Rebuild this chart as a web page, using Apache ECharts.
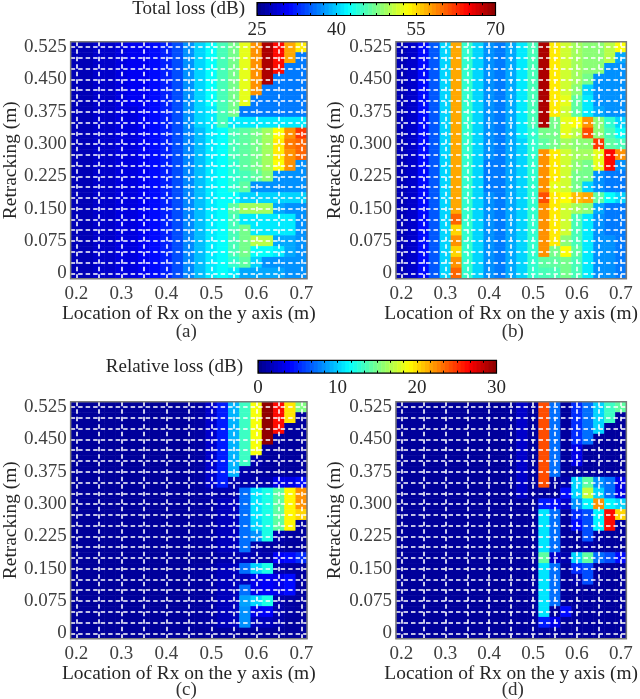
<!DOCTYPE html>
<html><head><meta charset="utf-8">
<style>html,body{margin:0;padding:0;background:#fff}#c{width:640px;height:699px}</style>
<script src="https://cdn.jsdelivr.net/npm/echarts@6/dist/echarts.min.js"></script>
</head><body><div id="c"></div>
<script>
const xCategories = ['0.2','0.225','0.25','0.275','0.3','0.325','0.35','0.375','0.4','0.425','0.45','0.475','0.5','0.525','0.55','0.575','0.6','0.625','0.65','0.675','0.7'];
const yCategories = ['0','0.025','0.05','0.075','0.1','0.125','0.150','0.175','0.2','0.225','0.25','0.275','0.300','0.325','0.35','0.375','0.4','0.425','0.450','0.475','0.5','0.525'];
// Rows run from the top of the plot (0.525) to the bottom (0)
const totalLossA = [
[27,27,28,28,29,30,30,31,32,34,37,40,42,45,47,52,58,68,64,57,54],
[27,27,28,28,29,30,30,31,32,34,37,40,42,45,47,52,58,68,64,57,36],
[27,27,28,28,29,30,30,31,32,34,37,40,42,45,47,52,58,68,64,36,36],
[27,27,28,28,29,30,30,31,32,34,37,40,42,45,47,52,58,68,36,36,36],
[27,27,28,28,29,30,30,31,32,34,37,40,42,45,47,52,58,36,36,36,36],
[27,27,28,28,29,30,30,31,32,34,37,40,42,45,47,52,36,36,36,36,36],
[27,27,28,28,29,29,30,31,32,34,37,40,41,45,47,36,36,36,36,36,36],
[27,27,28,28,29,29,30,31,32,34,37,40,41,45,41,41,41,41,41,41,41],
[27,27,28,28,29,29,30,31,32,34,36.5,39,41,42,45,46,47,49,53,58,62],
[27,27,28,28,29,29,30,31,32,34,36.5,39,41,42,45,46,47,49,54,59,60],
[27,27,28,28,29,29,30,31,32,34,36.5,39,41,42,45,46,47,49,54,58,60],
[27,27,28,28,29,29,30,31,32,34,36.5,39,41,42,44,46,47,49,53,58,37],
[27,27,28,28,29,29,30,31,32,34,36.5,39,41,42,44,45,46,48,37,37,37],
[27,27,28,28,29,29,30,31,32,34,36.5,39,41,42,44,46,37,37,37,37,37],
[27,27,28,28,29,29,30,31,32,34,36.5,39,41,42,42,40,40,40,40,40,40],
[27,27,28,28,29,29,30,31,32,34,36.5,39,41,42,46,49,49,49,38,37,37],
[27,27,28,28,29,29,30,31,32,34,36.5,39,41,42,45,41,41,41,41,41,37],
[27,27,28,28,29,29,30,31,32,34,36.5,39,41,42,45,47,41,41,41,41,37],
[27,27,28,28,29,29,30,31,32,34,36.5,39,41,42,45,47,50,50,38,38,37],
[27,27,28,28,29,29,30,31,32,34,36.5,39,41,42,45,47,42,42,41,38,37],
[27,27,28,28,29,29,30,31,32,34,36.5,39,41,42,44,46,40,37,37,37,37],
[27,27,28,28,29,29,30,31,32,34,36.5,39,41,42,41,38,38,38,38,37,37]];
const totalLossB = [
[27,28,31,34.5,40,57,44,40,37,36,38,41,45,68,54,51,49,48,48,50,53],
[27,28,31,34.5,40,57,44,40,37,36,38,41,45,68,54,51,49,48,48,50,38],
[27,28,31,34.5,40,57,44,40,37,36,38,41,45,68,54,51,49,48,48,37,37],
[27,28,31,34.5,40,57,44,40,37,36,38,41,45,68,54,51,49,47,37,37,37],
[27,28,31,34.5,40,57,44,40,37,36,38,41,45,68,54,51,48,40,37,37,37],
[27,28,31,34.5,40,57,44,40,37,36,38,41,45,68,54,52,46,41,37,37,37],
[27,28,31,34.5,40,57,44,40,37,36,38,41,45,68,54,51,46,41,38,37,37],
[27,28,31,34.5,40,57,44,40,37,36,38,41,45,68,47,52,53,58,48,44,40],
[27,28,31,34.5,40,57,44,40,37,36,38,41,44,47,47,52,50,61,48,45,42],
[27,28,31,34.5,40,57,44,40,37,36,38,40,44,46,47,49,48,48,62,46,45],
[27,28,31,34.5,40,57,44,40,37,36,38,40,44,58,54,51,49,49,52,64,58],
[27,28,31,34.5,40,57,44,40,36,36,38,40,44,58,54,51,48,47,52,64,37],
[27,28,31,34.5,40,57,44,40,36,36,38,40,44,58,54,51,47,47,37,36,36],
[27,28,31,34.5,40,57,44,40,36,36,38,40,44,58,52,51,47,40,37,36,36],
[27,28,31,34.5,40,57,44,40,37,36,38,40,44,61,54,53,56,57,46,42,40],
[27,28,31,34.5,40,57,44,40,37,36,38,40,44,58,54,51,49,48,38,36,36],
[27,28,31,34.5,40,60,44,40,37,36,38,40,44,58,54,51,45,41,37,36,36],
[27,28,31,34.5,40,55,44,40,37,36,38,40,44,58,54,51,45,41,37,36,36],
[27,28,31,34.5,40,58,44,40,37,36,38,40,44,58,54,48,45,41,37,37,36],
[27,28,31,34.5,40,55,44,40,37,36,38,40,44,58,47,53,46,41,37,37,36],
[27,28,31,34.5,40,58,44,40,37,36,38,40,44,46,46,47,45,41,37,37,36],
[27,28,31,34.5,40,60,44,40,37,36,38,40,44,45,45,47,45,41,37,37,36]];
const relativeLossC = [
[.4,.4,.4,.4,.4,.4,.4,.4,.4,.4,.5,.7,2,4.5,9,13,18.5,29.5,26,19.5,15],
[.4,.4,.4,.4,.4,.4,.4,.4,.4,.4,.5,.7,2,4.5,9,13,18.5,29.5,26,19.5,.5],
[.4,.4,.4,.4,.4,.4,.4,.4,.4,.4,.5,.7,2,4.5,9,13,18.5,29.5,26,.5,.5],
[.4,.4,.4,.4,.4,.4,.4,.4,.4,.4,.5,.7,2,4.5,9,13,18.5,29.5,.5,.5,.5],
[.4,.4,.4,.4,.4,.4,.4,.4,.4,.4,.5,.7,2,4.5,9,13,18.5,.5,.5,.5,.5],
[.4,.4,.4,.4,.4,.4,.4,.4,.4,.4,.5,.7,2,4.5,9,13,1,.5,.5,.5,.5],
[.4,.4,.4,.4,.4,.4,.4,.4,.4,.4,.5,.7,2,4.5,9,1,.5,.5,.5,.5,.5],
[.4,.4,.4,.4,.4,.4,.4,.4,.4,.4,.5,.7,2,4.5,1,1,1,1,3,3,4],
[.4,.4,.4,.4,.4,.4,.4,.4,.4,.4,.5,.6,1,1,1,7,10.5,12,14,19,22],
[.4,.4,.4,.4,.4,.4,.4,.4,.4,.4,.5,.6,.7,1.5,1.5,7,10.5,12,14,19,22],
[.4,.4,.4,.4,.4,.4,.4,.4,.4,.4,.5,.6,.7,1.5,1.5,7,10.5,12,14,19,20],
[.4,.4,.4,.4,.4,.4,.4,.4,.4,.4,.5,.6,.7,1.5,1.5,7,10,12,14,19,.5],
[.4,.4,.4,.4,.4,.4,.4,.4,.4,.4,.5,.6,.7,1.5,1.5,7,8,12,1,.7,.5],
[.4,.4,.4,.4,.4,.4,.4,.4,.4,.4,.5,.6,.7,1.5,1.5,7,1,.7,.7,.5,.5],
[.4,.4,.4,.4,.4,.4,.4,.4,.4,.4,.4,.4,.5,1,1,1.5,1,1,3.5,4,5],
[.4,.4,.4,.4,.4,.4,.4,.4,.4,.4,.5,.6,.7,1.5,1.5,7,10,12,1,.7,.5],
[.4,.4,.4,.4,.4,.4,.4,.4,.4,.4,.5,.6,.7,1.5,1.5,1.5,3,3.5,3,4,.5],
[.4,.4,.4,.4,.4,.4,.4,.4,.4,.4,.5,.6,.7,1.5,1.5,7,3,3.5,3,4,.5],
[.4,.4,.4,.4,.4,.4,.4,.4,.4,.4,.5,.6,.7,1.5,1.5,8.5,10,12,1,.7,.5],
[.4,.4,.4,.4,.4,.4,.4,.4,.4,.4,.5,.6,.7,1.5,1.5,8,3,3.5,1,.7,.5],
[.4,.4,.4,.4,.4,.4,.4,.4,.4,.4,.5,.6,.7,1.5,1.5,8,1.5,1.5,1,.5,.5],
[.4,.4,.4,.4,.4,.4,.4,.4,.4,.4,.4,.4,.5,.5,.5,.5,.5,.5,.5,.5,.5]];
const relativeLossD = [
[.4,.4,.4,.4,.4,.4,.4,.4,.4,.4,.5,2,.5,24,7,.5,5,7,10,13,14],
[.4,.4,.4,.4,.4,.4,.4,.4,.4,.4,.5,2,.5,24,7,.5,5,7,10,13,.5],
[.4,.4,.4,.4,.4,.4,.4,.4,.4,.4,.5,2,.5,24,7,.5,5,7,10,.5,.5],
[.4,.4,.4,.4,.4,.4,.4,.4,.4,.4,.5,2,.5,24,7,.5,5,7,.5,.5,.5],
[.4,.4,.4,.4,.4,.4,.4,.4,.4,.4,.5,2,.5,24,7,.5,3,.5,.5,.5,.5],
[.4,.4,.4,.4,.4,.4,.4,.4,.4,.4,.5,2,.5,24,7,.5,3,.5,.5,.5,.5],
[.4,.4,.4,.4,.4,.4,.4,.4,.4,.4,.5,2,.5,24,7,.5,.5,.5,.5,.5,.5],
[.4,.4,.4,.4,.4,.4,.4,.4,.4,.4,.5,2,.5,24,.5,1,10,14,8,7,3],
[.4,.4,.4,.4,.4,.4,.4,.4,.4,.4,.5,2,.5,.5,.5,4,10,17,10,7,3],
[.4,.4,.4,.4,.4,.4,.4,.4,.4,.4,.4,.5,.5,4.5,4,2,8,11,22,11,10],
[.4,.4,.4,.4,.4,.4,.4,.4,.4,.4,.4,.5,.5,10.5,7,.5,5,6,11,26,20],
[.4,.4,.4,.4,.4,.4,.4,.4,.4,.4,.4,.5,.5,10.5,7,.5,4,6,11,26,.5],
[.4,.4,.4,.4,.4,.4,.4,.4,.4,.4,.4,.5,.5,10.5,7,.5,.5,6,.7,.5,.5],
[.4,.4,.4,.4,.4,.4,.4,.4,.4,.4,.4,.5,.5,10.5,7,.5,.5,1,.5,.5,.5],
[.4,.4,.4,.4,.4,.4,.4,.4,.4,.4,.4,.5,.5,14,2,1,10,14,7,6,4],
[.4,.4,.4,.4,.4,.4,.4,.4,.4,.4,.4,.5,.5,10.5,7,.5,5,6,.5,.5,.5],
[.4,.4,.4,.4,.4,.4,.4,.4,.4,.4,.4,.5,.5,10.5,7,.5,1,6,.5,.5,.5],
[.4,.4,.4,.4,.4,.4,.4,.4,.4,.4,.4,.5,.5,10.5,7,.5,.5,.5,.5,.5,.5],
[.4,.4,.4,.4,.4,.4,.4,.4,.4,.4,.4,.5,.5,10.5,7,.5,.5,.5,.5,.5,.5],
[.4,.4,.4,.4,.4,.4,.4,.4,.4,.4,.4,.5,.5,10.5,.5,4,.5,.5,.5,.5,.5],
[.4,.4,.4,.4,.4,.4,.4,.4,.4,.4,.4,.5,.5,4.5,3,.5,.5,.5,.5,.5,.5],
[.4,.4,.4,.4,.4,.4,.4,.4,.4,.4,.4,.5,.5,.5,.5,.5,.5,.5,.5,.5,.5]];
const barLevelsTotal = [25,25.75,26.5,27.25,28,28.75,29.5,30.25,31,31.75,32.5,33.25,34,34.75,35.5,36.25,37,37.75,38.5,39.25,40,40.75,41.5,42.25,43,43.75,44.5,45.25,46,46.75,47.5,48.25,49,49.75,50.5,51.25,52,52.75,53.5,54.25,55,55.75,56.5,57.25,58,58.75,59.5,60.25,61,61.75,62.5,63.25,64,64.75,65.5,66.25,67,67.75,68.5,69.25,70];
const barLevelsRelative = [0,.5,1,1.5,2,2.5,3,3.5,4,4.5,5,5.5,6,6.5,7,7.5,8,8.5,9,9.5,10,10.5,11,11.5,12,12.5,13,13.5,14,14.5,15,15.5,16,16.5,17,17.5,18,18.5,19,19.5,20,20.5,21,21.5,22,22.5,23,23.5,24,24.5,25,25.5,26,26.5,27,27.5,28,28.5,29,29.5,30];
const barLabelsTotal = [25,40,55,70];
const barLabelsRelative = [0,10,20,30];
const barTicksTotal = [25,27.5,30,32.5,35,37.5,40,42.5,45,47.5,50,52.5,55,57.5,60,62.5,65,67.5,70];
const barTicksRelative = [0,1.667,3.333,5,6.667,8.333,10,11.667,13.333,15,16.667,18.333,20,21.667,23.333,25,26.667,28.333,30];
const jet = ['#00008f','#0000ff','#0080ff','#00ffff','#80ff80','#ffff00','#ff8000','#ff0000','#800000'];

const FONT = 'Liberation Serif';
const panels = [
  {rows: totalLossA,   left: 69.5, top: 41.7,  label: '(a)', ly: 332, yGap: 49},
  {rows: totalLossB,   left: 396,  top: 41.7,  label: '(b)', ly: 332, yGap: 51.5},
  {rows: relativeLossC,left: 69.5, top: 401.7, label: '(c)', ly: 690.5, yGap: 49},
  {rows: relativeLossD,left: 396,  top: 401.7, label: '(d)', ly: 690.5, yGap: 51.5}
];
const W = 237.5, H = 237;
const grids = [], xAxes = [], yAxes = [], series = [], graphics = [];
const dash = {color: '#fff', width: 1.6, type: [4.5, 3]};
panels.forEach((p, i) => {
  grids.push({left: p.left, top: p.top, width: W, height: H, show: true, z: 6,
    backgroundColor: 'transparent', borderColor: '#7a7a7a', borderWidth: 1.5});
  xAxes.push({type: 'category', gridIndex: i, data: xCategories, z: 5,
    axisLine: {show: false}, axisTick: {show: false},
    axisLabel: {interval: 3, fontFamily: FONT, fontSize: 19, color: '#404040', margin: 6},
    name: 'Location of Rx on the y axis (m)', nameLocation: 'middle', nameGap: 20.5,
    nameTextStyle: {fontFamily: FONT, fontSize: 19.4, color: '#262626'},
    splitLine: {show: true, interval: 1, alignWithLabel: true, lineStyle: dash}});
  yAxes.push({type: 'category', gridIndex: i, data: yCategories, z: 5,
    axisLine: {show: false}, axisTick: {show: false},
    axisLabel: {interval: 2, fontFamily: FONT, fontSize: 19, color: '#404040', margin: 4, padding: [2, 0, 0, 0]},
    name: 'Retracking (m)', nameLocation: 'middle', nameGap: p.yGap, nameRotate: 90,
    nameTextStyle: {fontFamily: FONT, fontSize: 19.4, color: '#262626'},
    splitLine: {show: true, interval: 0, alignWithLabel: true, lineStyle: dash}});
  const cells = [];
  p.rows.forEach((row, r) => row.forEach((v, c) => cells.push([c, p.rows.length - 1 - r, v])));
  series.push({type: 'heatmap', xAxisIndex: i, yAxisIndex: i, data: cells, silent: true,
    progressive: 0, itemStyle: {borderWidth: 0}, emphasis: {disabled: true}});
  graphics.push({type: 'text', x: p.left + W / 2 - 2, y: p.ly, silent: true,
    style: {text: p.label, fontFamily: FONT, fontSize: 19, fill: '#333', align: 'center', verticalAlign: 'middle'}});
});

const bars = [
  {levels: barLevelsTotal, labels: barLabelsTotal, ticks: barTicksTotal, min: 25, max: 70, left: 257, top: 2.7, title: 'Total loss (dB)', tx: 245, ty: 9},
  {levels: barLevelsRelative, labels: barLabelsRelative, ticks: barTicksRelative, min: 0, max: 30, left: 258, top: 360.3, title: 'Relative loss (dB)', tx: 243, ty: 367}
];
bars.forEach((b, j) => {
  const g = 4 + j;
  grids.push({left: b.left, top: b.top, width: 238.5, height: 12.8, show: true, z: 6,
    backgroundColor: 'transparent', borderColor: '#000', borderWidth: 1.2});
  xAxes.push({type: 'value', gridIndex: g, min: b.min, max: b.max, z: 5, position: 'bottom',
    axisLine: {show: false}, splitLine: {show: false},
    axisTick: {show: true, inside: true, length: 2.5, customValues: b.ticks, lineStyle: {color: '#000', width: 1}},
    axisLabel: {customValues: b.labels, fontFamily: FONT, fontSize: 19, color: '#262626', margin: 5, hideOverlap: false, showMinLabel: true, showMaxLabel: true}});
  yAxes.push({type: 'value', gridIndex: g, min: 0, max: 1, show: false});
  series.push({type: 'custom', xAxisIndex: 4 + j, yAxisIndex: 4 + j, silent: true,
    data: b.levels.slice(0, -1).map((v, k) => [v, b.levels[k + 1], v]),
    encode: {x: [0, 1]},
    renderItem: (params, api) => {
      const a = api.coord([api.value(0), 1]), c = api.coord([api.value(1), 0]);
      return {type: 'rect', shape: {x: a[0], y: a[1], width: c[0] - a[0] + 0.5, height: c[1] - a[1]},
        style: {fill: api.visual('color')}};
    }});
  graphics.push({type: 'text', x: b.tx, y: b.ty, silent: true,
    style: {text: b.title, fontFamily: FONT, fontSize: 19, fill: '#262626', align: 'right', verticalAlign: 'middle'}});
});
// top-edge ticks of the two colour bars
bars.forEach((b, j) => {
  xAxes.push({type: 'value', gridIndex: 4 + j, min: b.min, max: b.max, z: 5, position: 'top',
    axisLine: {show: false}, splitLine: {show: false}, axisLabel: {show: false},
    axisTick: {show: true, inside: true, length: 2.5, customValues: b.ticks, lineStyle: {color: '#000', width: 1}}});
});

const chart = echarts.init(document.getElementById('c'), null, {renderer: 'canvas'});
chart.setOption({
  animation: false,
  backgroundColor: '#fff',
  textStyle: {fontFamily: FONT},
  grid: grids, xAxis: xAxes, yAxis: yAxes,
  visualMap: [
    {show: false, type: 'continuous', seriesIndex: [0, 1, 4], min: 25, max: 70, dimension: 2, inRange: {color: jet}},
    {show: false, type: 'continuous', seriesIndex: [2, 3, 5], min: 0, max: 30, dimension: 2, inRange: {color: jet}}
  ],
  series: series,
  graphic: graphics
});
</script></body></html>
